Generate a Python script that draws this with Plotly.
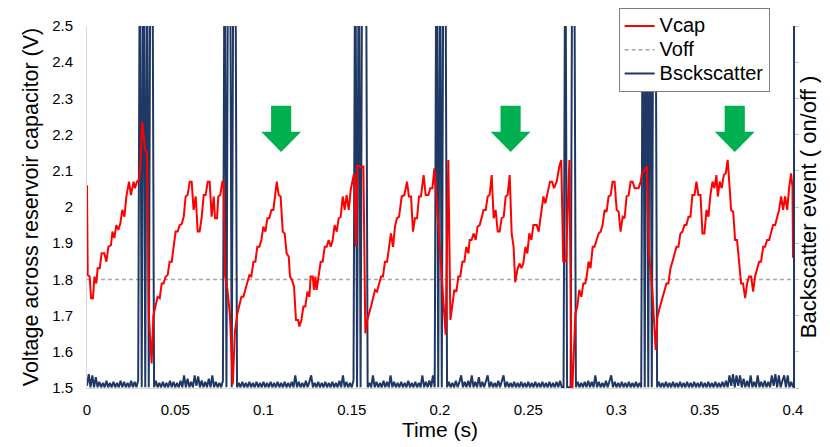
import plotly.graph_objects as go

# ---------------- data ----------------
# Vcap: time (ms) and voltage (V)
vcap_t_ms = [
    0, 0.4, 1.5, 2.3, 3.4, 4.2, 5.3, 6.0, 7.2, 8.3, 9.8, 11.0, 12.1, 13.6, 14.4, 15.5, 16.6, 17.8, 18.9, 20.0,
    21.2, 22.3, 23.8, 24.9, 26.4, 27.2, 28.3, 29.5,
    30.2, 31.3, 32.9, 34.0, 35.1, 36.6, 37.6, 38.7,
    40.0, 41.2, 42.3, 43.4, 44.6, 45.7, 46.8, 48.0, 49.1, 50.2, 51.4, 52.5, 53.6, 54.8, 55.9, 57.0, 58.2, 59.3,
    60.4, 61.6, 62.7, 63.8, 65.0, 66.1, 67.2, 68.4, 69.5, 70.6, 71.8, 72.5, 73.7, 74.4, 75.5, 76.7, 77.4,
    78.2, 79.6, 81.0, 82.6, 83.8, 85.2,
    86.3, 87.5, 88.6, 89.7, 90.9, 92.0, 93.1, 94.3, 95.4, 96.5, 97.7, 98.8, 99.9, 101.1, 102.2, 103.3, 104.5,
    105.6, 107.5, 108.6, 109.7, 110.9, 112.0, 113.1, 114.3, 115.0, 116.2, 117.3, 118.4, 119.6, 120.3, 121.5,
    122.6, 123.7, 124.9, 126.0, 126.7, 127.9, 128.6, 129.4, 130.1, 131.3, 132.4, 133.5, 134.7, 135.8, 136.9,
    138.1, 139.2, 140.3, 141.5, 142.6, 143.7, 144.9, 146.0, 147.1, 148.3, 149.4, 150.5, 151.3,
    152.4, 153.2, 155.0, 156.6, 157.7, 158.8,
    160.9, 162.0, 163.2, 164.3, 165.4, 166.6, 167.7, 168.8, 170.0, 171.1, 172.2, 173.4, 174.5, 175.6, 176.8,
    178.3, 179.8, 181.3, 182.4, 183.6, 184.7, 185.8, 187.0, 188.1, 189.2, 190.7, 191.9, 193.4, 194.5, 195.7, 196.8,
    199.0, 201.0, 203.2, 204.7, 205.9, 207.0,
    208.1, 209.3, 210.4, 211.5, 212.7, 213.8, 214.9, 216.1, 216.8, 217.9, 219.1, 220.2, 221.3, 222.5, 223.6,
    224.7, 225.9, 227.0, 228.1, 229.3, 230.4, 231.5, 232.7, 233.8, 234.9, 236.1, 237.2, 238.3, 239.5, 240.6,
    241.7, 242.6, 243.8, 245.0, 246.1, 247.2, 248.4, 249.5, 250.6, 251.8, 252.9, 254.8, 255.9, 257.0, 258.6,
    259.7, 260.8, 262.3, 263.5, 264.6, 266.1, 267.6, 268.7,
    269.8, 271.4, 273.3, 274.6, 276.7,
    277.8, 278.9, 280.1, 281.2, 282.3, 283.1, 284.2, 285.3, 286.5, 287.6, 288.7, 289.9, 291.0, 292.1, 293.3,
    294.4, 295.5, 296.7, 297.8, 298.9, 300.1, 301.2, 302.3, 303.5, 304.6, 305.7, 306.9, 308.0, 309.1, 310.3,
    311.4, 312.5, 313.7, 314.4,
    317.3, 318.2, 319.0, 320.3, 322.2, 323.2,
    324.1, 324.9, 326.0, 327.2, 328.3, 329.4, 330.6, 331.7, 332.8, 334.0, 335.1, 336.2, 337.4, 338.5, 339.6,
    340.8, 341.9, 343.0, 344.2, 345.3, 346.4, 347.6, 348.7, 349.8, 351.0, 352.1, 353.2, 354.4, 355.5, 356.6,
    357.4, 358.5, 359.6, 360.8, 361.9, 363.0, 364.2, 364.9, 366.1, 367.2, 368.3, 369.5, 370.6, 371.7, 372.9,
    374.0, 375.1, 376.3, 377.4, 378.5, 379.7, 380.8, 381.9, 383.1, 384.2, 385.3, 386.5, 387.6, 388.7, 389.9,
    391.0, 392.1, 393.3, 394.4, 395.5, 396.7, 397.8, 398.9, 399.7, 400.0,
]
vcap_v = [
    2.06, 1.812, 1.808, 1.748, 1.748, 1.808, 1.789, 1.831, 1.831, 1.872, 1.872, 1.849, 1.890, 1.895, 1.932, 1.914, 1.950, 1.937, 1.955, 1.992,
    1.973, 2.029, 2.070, 2.033, 2.070, 2.052, 2.070, 2.075,
    2.11, 2.236, 2.157, 2.15, 1.697, 1.568, 1.70, 1.725,
    1.752, 1.748, 1.789, 1.789, 1.808, 1.812, 1.849, 1.849, 1.890, 1.932, 1.932, 1.950, 1.953, 1.973, 2.029, 2.033, 2.070, 2.070,
    1.992, 2.029, 1.932, 1.932, 1.973, 2.033, 2.033, 2.070, 2.070, 1.973, 2.029, 1.969, 1.969, 2.029, 2.033, 2.070, 2.070,
    1.81, 1.771, 1.70, 1.51, 1.656, 1.706,
    1.725, 1.752, 1.752, 1.771, 1.789, 1.812, 1.808, 1.849, 1.849, 1.890, 1.890, 1.909, 1.946, 1.932, 1.969, 1.969, 1.992,
    1.992, 2.070, 2.033, 2.029, 1.932, 1.927, 1.872, 1.863, 1.808, 1.798, 1.780, 1.688, 1.688, 1.670, 1.688,
    1.725, 1.725, 1.766, 1.752, 1.808, 1.808, 1.771, 1.808, 1.771, 1.808, 1.849, 1.849, 1.890, 1.890, 1.909,
    1.890, 1.909, 1.950, 1.932, 1.969, 1.973, 2.029, 1.992, 2.033, 1.992, 2.047, 2.070, 2.093,
    1.890, 2.116, 2.11, 2.112, 1.651, 1.688,
    1.725, 1.752, 1.771, 1.766, 1.789, 1.808, 1.808, 1.849, 1.849, 1.890, 1.927, 1.890, 1.946, 1.969, 1.973,
    2.029, 2.033, 2.070, 2.029, 2.029, 1.932, 1.969, 1.969, 2.029, 2.029, 2.088, 2.033, 2.033, 2.052, 2.052, 2.107,
    1.95, 1.80, 1.647, 2.130, 1.688, 1.729,
    1.771, 1.766, 1.808, 1.808, 1.849, 1.849, 1.890, 1.872, 1.909, 1.909, 1.927, 1.909, 1.946, 1.950, 1.969,
    1.992, 1.992, 2.029, 2.033, 2.088, 1.969, 1.992, 1.932, 1.932, 1.969, 1.973, 2.029, 2.033, 2.088, 1.927,
    1.890, 1.792, 1.826, 1.844, 1.831, 1.844, 1.890, 1.872, 1.927, 1.909, 1.950, 1.950, 1.932, 1.973, 2.029,
    2.010, 2.033, 2.070, 2.070, 2.052, 2.070, 2.112, 2.130,
    1.85, 1.85, 2.13, 1.45, 1.706,
    1.725, 1.771, 1.752, 1.789, 1.789, 1.808, 1.849, 1.831, 1.890, 1.890, 1.909, 1.927, 1.932, 1.950, 1.992,
    1.987, 2.029, 2.033, 2.070, 2.070, 1.992, 1.987, 1.932, 1.973, 1.969, 2.029, 2.033, 2.070, 2.070, 2.052,
    2.052, 2.052, 2.070, 2.093,
    2.112, 1.88, 1.84, 1.77, 1.605, 1.697,
    1.715, 1.729, 1.752, 1.771, 1.789, 1.789, 1.831, 1.849, 1.872, 1.890, 1.890, 1.927, 1.932, 1.950, 1.950,
    1.973, 1.973, 2.033, 2.033, 2.070, 2.033, 2.033, 1.927, 1.927, 1.992, 1.973, 2.033, 2.070, 2.052, 2.088,
    2.029, 2.070, 2.052, 2.088, 2.093, 2.130, 2.047, 1.992, 1.987, 1.909, 1.909, 1.849, 1.789, 1.789, 1.748,
    1.789, 1.808, 1.808, 1.766, 1.808, 1.831, 1.849, 1.849, 1.890, 1.890, 1.909, 1.909, 1.927, 1.950, 1.950,
    1.973, 1.992, 2.029, 1.992, 2.029, 1.992, 2.052, 2.093, 2.056, 1.86,
]

# Voff threshold
voff_t = [0.0, 0.4]
voff_v = [1.8, 1.8]

# Backscatter event (secondary axis units), one sample per ms, 0..400 ms; 14 = "on"
bsc_t_ms = list(range(0, 401))
bsc_v = [
    0.06, 0.38, 0.02, 0.35, 0.02, 0.3, 0.02, 0.17, 0.02, 0.14, 0.02, 0.2, 0.02, 0.14, 0.02, 0.17, 0.02, 0.14, 0.02, 0.2,
    0.02, 0.17, 0.02, 0.14, 0.02, 0.2, 0.02, 0.17, 0.02, 0.21, 14, 0.02, 14, 0.02, 14, 0.02, 14, 14, 0.02, 0.2,
    0.02, 0.14, 0.02, 0.17, 0.02, 0.14, 0.02, 0.2, 0.02, 0.17, 0.02, 0.14, 0.02, 0.2, 0.02, 0.35, 0.02, 0.26, 0.02, 0.17,
    0.02, 0.35, 0.06, 0.32, 0.02, 0.21, 0.02, 0.17, 0.02, 0.26, 0.02, 0.35, 0.02, 0.17, 0.02, 0.14, 0.02, 0.2, 14, 0.02,
    14, 14, 0.02, 14, 14, 0.02, 0.14, 0.02, 0.17, 0.02, 0.14, 0.02, 0.17, 0.02, 0.14, 0.02, 0.17, 0.02, 0.14, 0.02,
    0.17, 0.02, 0.14, 0.02, 0.17, 0.02, 0.14, 0.02, 0.17, 0.02, 0.14, 0.02, 0.17, 0.02, 0.14, 0.02, 0.17, 0.02, 0.35, 0.02,
    0.17, 0.02, 0.14, 0.02, 0.2, 0.02, 0.17, 0.35, 0.02, 0.14, 0.02, 0.17, 0.02, 0.14, 0.02, 0.17, 0.02, 0.14, 0.02, 0.17,
    0.02, 0.14, 0.02, 0.2, 0.02, 0.35, 0.02, 0.17, 0.02, 0.14, 0.02, 0.21, 14, 0.02, 14, 0.02, 14, 14, 14, 0.02,
    0.14, 0.02, 0.35, 0.02, 0.17, 0.02, 0.14, 0.02, 0.2, 0.02, 0.17, 0.02, 0.35, 0.02, 0.17, 0.02, 0.14, 0.02, 0.17, 0.02,
    0.14, 0.02, 0.2, 0.02, 0.14, 0.02, 0.17, 0.02, 0.14, 0.02, 0.35, 0.02, 0.17, 0.02, 0.21, 0.02, 0.35, 0.02, 14, 0.02,
    14, 0.02, 14, 14, 0.02, 0.17, 0.02, 0.14, 0.02, 0.2, 0.02, 0.17, 0.35, 0.02, 0.17, 0.02, 0.2, 0.02, 0.35, 0.02,
    0.17, 0.02, 0.3, 0.02, 0.17, 0.02, 0.2, 0.35, 0.02, 0.17, 0.02, 0.14, 0.02, 0.2, 0.02, 0.17, 0.35, 0.02, 0.17, 0.02,
    0.14, 0.02, 0.17, 0.02, 0.14, 0.02, 0.17, 0.02, 0.14, 0.02, 0.17, 0.02, 0.14, 0.02, 0.17, 0.02, 0.14, 0.02, 0.17, 0.02,
    0.14, 0.02, 0.17, 0.02, 0.14, 0.02, 0.17, 0.02, 0.2, 0.02, 0.02, 14, 0.02, 0.02, 0.02, 14, 14, 0.02, 0.17, 0.02,
    0.14, 0.02, 0.17, 0.02, 0.2, 0.02, 0.17, 0.02, 0.35, 0.02, 0.17, 0.02, 0.14, 0.02, 0.2, 0.02, 0.17, 0.35, 0.02, 0.17,
    0.02, 0.14, 0.02, 0.17, 0.02, 0.14, 0.02, 0.17, 0.02, 0.14, 0.02, 0.17, 0.02, 0.14, 0.02, 14, 0.02, 14, 0.02, 14,
    0.02, 14, 14, 0.02, 0.17, 0.02, 0.14, 0.02, 0.17, 0.02, 0.14, 0.02, 0.17, 0.02, 0.14, 0.02, 0.17, 0.02, 0.14, 0.02,
    0.17, 0.02, 0.14, 0.02, 0.17, 0.02, 0.14, 0.02, 0.17, 0.02, 0.14, 0.02, 0.17, 0.02, 0.14, 0.02, 0.17, 0.02, 0.14, 0.02,
    0.17, 0.02, 0.2, 0.02, 0.35, 0.06, 0.38, 0.02, 0.35, 0.06, 0.35, 0.02, 0.26, 0.02, 0.2, 0.02, 0.35, 0.02, 0.17, 0.02,
    0.35, 0.02, 0.17, 0.02, 0.2, 0.02, 0.17, 0.02, 0.35, 0.06, 0.38, 0.02, 0.35, 0.02, 0.2, 0.35, 0.02, 0.35, 0.02, 0.17,
    0.02,
]

# legend labels
series_names = ["Vcap", "Voff", "Bsckscatter"]

# Green arrows mark these times (s)
arrow_t = [0.110, 0.240, 0.367]

# ---------------- figure ----------------
FONT = "Liberation Sans, Arial, sans-serif"
RED = "#FF0000"
NAVY = "#1F3864"
GREEN = "#00B050"


def leg_label(s):
    return f'<span style="font-size:20px">{s}</span>'


fig = go.Figure()
# Vcap is drawn on a hidden overlay axis (same voltage range) so it sits on top of the bursts
fig.add_trace(go.Scatter(
    x=[t / 1000 for t in vcap_t_ms], y=vcap_v, name=leg_label(series_names[0]), mode="lines",
    yaxis="y3", line=dict(color=RED, width=2), legendrank=1,
))
fig.add_trace(go.Scatter(
    x=voff_t, y=voff_v, name=leg_label(series_names[1]), mode="lines",
    line=dict(color="#A6A6A6", width=1.5, dash="4px,3px"), legendrank=2,
))
fig.add_trace(go.Scatter(
    x=[t / 1000 for t in bsc_t_ms], y=bsc_v, name=leg_label(series_names[2]), mode="lines",
    yaxis="y2", line=dict(color=NAVY, width=2), legendrank=3,
))

# arrow shapes (data coords)
half_shaft = 0.0057
half_head = 0.0113
y_top, y_base, y_tip = 2.28, 2.208, 2.152
shapes = []
for t in arrow_t:
    path = (f"M {t-half_shaft},{y_top} L {t+half_shaft},{y_top} L {t+half_shaft},{y_base} "
            f"L {t+half_head},{y_base} L {t},{y_tip} L {t-half_head},{y_base} "
            f"L {t-half_shaft},{y_base} Z")
    shapes.append(dict(type="path", xref="x", yref="y", path=path,
                       fillcolor=GREEN, line=dict(width=0), layer="above"))

fig.update_layout(
    width=822, height=439,
    margin=dict(l=79, r=37, t=18, b=59, autoexpand=False),
    paper_bgcolor="white", plot_bgcolor="white",
    font=dict(family=FONT, color="#000000", size=15),
    showlegend=True,
    legend=dict(
        x=0.753, y=1.0497, xanchor="left", yanchor="top",
        bgcolor="white", bordercolor="#7F7F7F", borderwidth=1,
        font=dict(family=FONT, size=16, color="#000000"),
        tracegroupgap=0, itemwidth=30, traceorder="normal",
    ),
    xaxis=dict(
        range=[0, 0.4], tick0=0, dtick=0.05, automargin=False,
        showline=True, linecolor="#D9D9D9", linewidth=1,
        ticks="outside", ticklen=8, tickcolor="rgba(0,0,0,0)",
        showgrid=False, zeroline=False,
        tickfont=dict(size=15, color="#000000"),
        title=dict(text="Time (s)", font=dict(size=21), standoff=4),
    ),
    yaxis=dict(
        range=[1.5, 2.5], tick0=1.5, dtick=0.1, automargin=False,
        showline=True, linecolor="#D9D9D9", linewidth=1,
        ticks="outside", ticklen=10, tickcolor="rgba(0,0,0,0)",
        showgrid=False, zeroline=False,
        tickfont=dict(size=15, color="#000000"),
        title=dict(text="Voltage across reservoir capacitor (V)", font=dict(size=21.5), standoff=7),
    ),
    yaxis2=dict(
        overlaying="y", side="right", range=[0, 10], tick0=0, dtick=1, automargin=False,
        showticklabels=False, showline=True, linecolor=NAVY, linewidth=2,
        ticks="outside", ticklen=4, tickcolor="#BFBFBF",
        showgrid=False, zeroline=False,
        title=dict(text="Backscatter event ( on/off )", font=dict(size=22), standoff=3),
    ),
    yaxis3=dict(
        overlaying="y", range=[1.5, 2.5], visible=False, automargin=False,
        showgrid=False, zeroline=False,
    ),
    shapes=shapes,
)

fig.write_html("out.html")
